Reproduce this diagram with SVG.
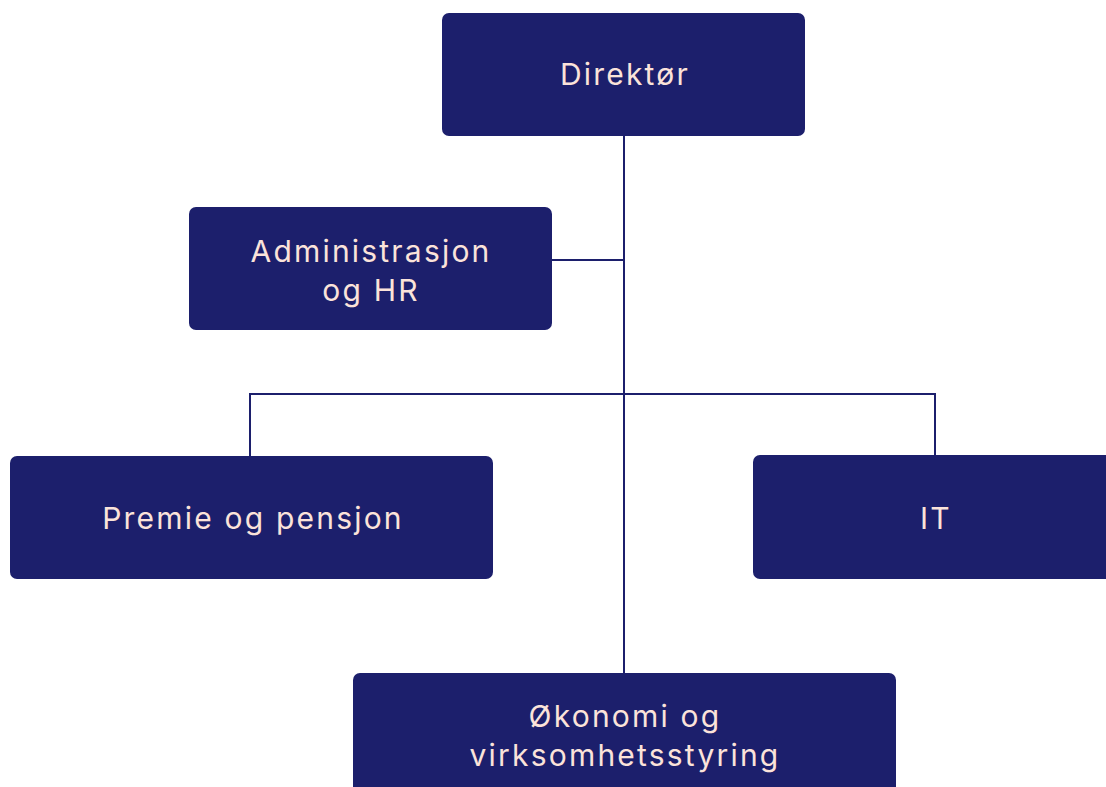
<svg xmlns="http://www.w3.org/2000/svg" width="1106" height="787" viewBox="0 0 1106 787">
<style>
.box{fill:#1c1f6c;}
.lbl{font-family:Inter,"Noto Sans",sans-serif;font-size:30px;fill:#fbe3da;text-anchor:middle;letter-spacing:2.2px;}
.con{stroke:#1c1f6c;stroke-width:2;fill:none;}
</style>
<rect width="1106" height="787" fill="#ffffff"/>
<g id="connectors">
<path class="con" d="M624 136V673"/>
<path class="con" d="M552 260H624"/>
<path class="con" d="M250 456V394H935V455"/>
</g>
<g id="direktor">
<rect class="box" x="442" y="13" width="363" height="123" rx="7"/>
<text class="lbl" x="625" y="85">Direktør</text>
</g>
<g id="admin">
<rect class="box" x="189" y="207" width="363" height="123" rx="7"/>
<text class="lbl" x="371" y="262">Administrasjon</text>
<text class="lbl" x="371" y="301">og HR</text>
</g>
<g id="premie">
<rect class="box" x="10" y="456" width="483" height="123" rx="7"/>
<text class="lbl" x="253" y="529">Premie og pensjon</text>
</g>
<g id="it">
<rect class="box" x="753" y="455" width="363" height="124" rx="7"/>
<text class="lbl" x="936" y="529">IT</text>
</g>
<g id="okonomi">
<rect class="box" x="353" y="673" width="543" height="130" rx="7"/>
<text class="lbl" x="625" y="727">Økonomi og</text>
<text class="lbl" x="625" y="766">virksomhetsstyring</text>
</g>
</svg>
